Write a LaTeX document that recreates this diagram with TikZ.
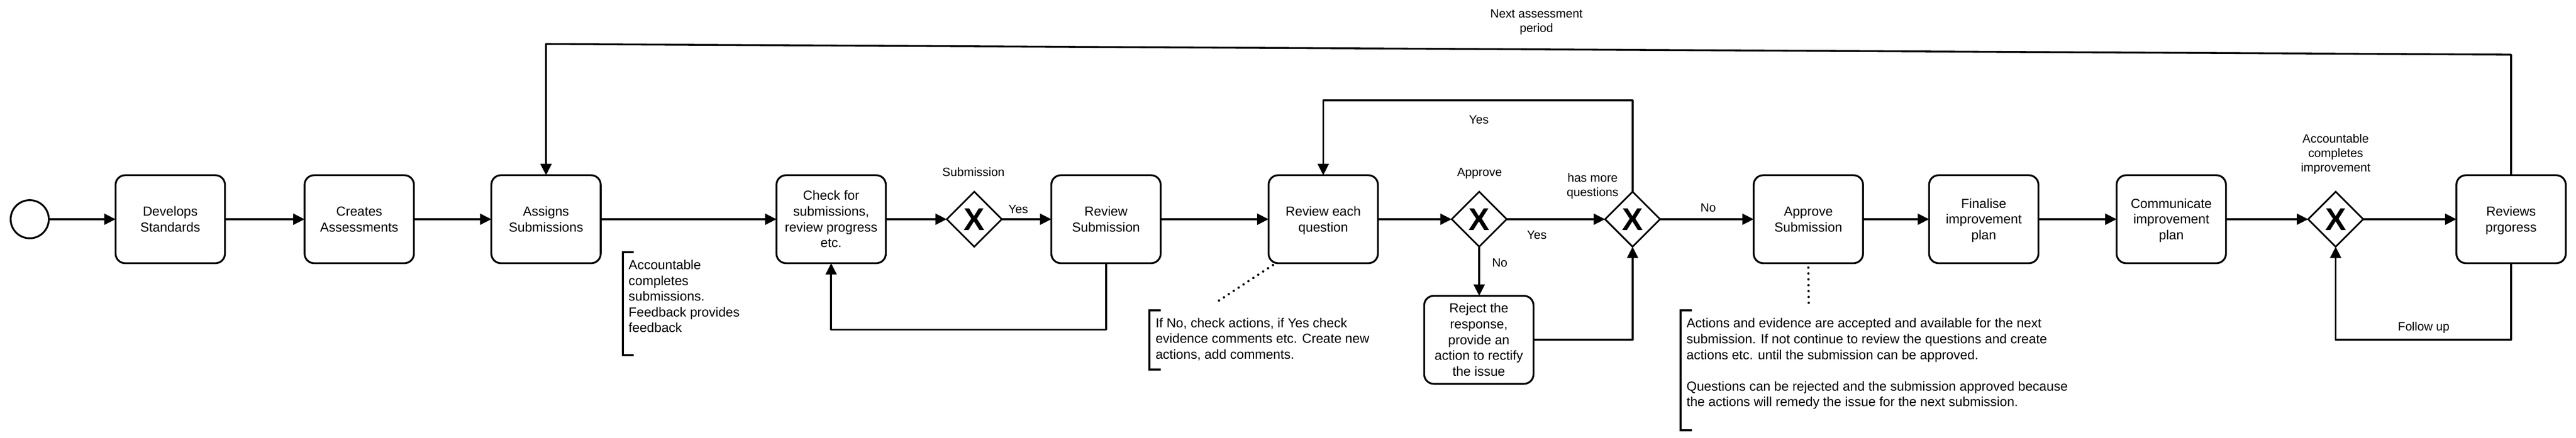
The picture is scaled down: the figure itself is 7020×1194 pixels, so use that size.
\documentclass[tikz,border=0pt]{standalone}
\usepackage{fontspec}
\setmainfont{Liberation Sans}
\usetikzlibrary{arrows.meta,shapes.geometric}
\newcommand\lstr{\rule[-0.2535em]{0pt}{1.2em}}
\newcommand\fbig{\fontsize{35.8pt}{42.96pt}\selectfont}
\newcommand\fsmall{\fontsize{32.8pt}{39.36pt}\selectfont}
\newcommand\fxmark{\fontsize{86pt}{86pt}\selectfont\bfseries}
\tikzset{
  task/.style={draw, line width=5pt, rounded corners=26pt, minimum width=298pt, minimum height=240pt,
    inner sep=0pt, outer sep=0pt, align=center, font=\fbig},
  gw/.style={draw, diamond, line width=4.5pt, minimum width=150pt, minimum height=150pt,
    inner sep=0pt, outer sep=0pt},
  xmark/.style={inner sep=0pt, font=\fxmark},
  startev/.style={draw, circle, line width=5pt, minimum size=104pt, inner sep=0pt, outer sep=0pt},
  lbl/.style={inner sep=0pt, align=center, font=\fsmall},
  note/.style={inner sep=0pt, align=left, font=\fbig, anchor=north west},
  flow/.style={line width=5pt, line join=round, -{Triangle[length=31pt,width=30pt]}},
  plain/.style={line width=5pt, line join=round},
  brk/.style={line width=5.5pt, line join=miter},
  dots/.style={line width=6.5pt, line cap=round, dash pattern=on 0pt off 16pt},
}
\begin{document}
\begin{tikzpicture}[x=1pt,y=-1pt]
\useasboundingbox (0,0) rectangle (7020,1194);

% nodes
\node[startev] (s) at (81,598) {};
\node[task] (ds) at (464,598) {\lstr Develops\\\lstr Standards};
\node[task] (ca) at (979,598) {\lstr Creates\\\lstr Assessments};
\node[task] (as) at (1488,598) {\lstr Assigns\\\lstr Submissions};
\node[task] (chk) at (2265,598) {\lstr Check for\\\lstr submissions,\\\lstr review progress\\\lstr etc.};
\node[gw] (g1) at (2655,598) {};
\node[xmark] (x1) at (g1) {X};
\node[task] (rs) at (3014,598) {\lstr Review\\\lstr Submission};
\node[task] (rq) at (3606,598) {\lstr Review each\\\lstr question};
\node[gw] (ap) at (4031,598) {};
\node[xmark] (x2) at (ap) {X};
\node[gw] (hm) at (4449,598) {};
\node[xmark] (x3) at (hm) {X};
\node[task] (rj) at (4030,927) {\lstr Reject the\\\lstr response,\\\lstr provide an\\\lstr action to rectify\\\lstr the issue};
\node[task] (aps) at (4928,598) {\lstr Approve\\\lstr Submission};
\node[task] (fin) at (5406,598) {\lstr Finalise\\\lstr improvement\\\lstr plan};
\node[task] (com) at (5917,598) {\lstr Communicate\\\lstr improvement\\\lstr plan};
\node[gw] (g3) at (6365,598) {};
\node[xmark] (x4) at (g3) {X};
\node[task] (rp) at (6843,598) {\lstr Reviews\\\lstr prgoress};

% labels
\node[lbl] (lsub) at (2653,470) {\lstr Submission};
\node[lbl] (lyes1) at (2775,571) {\lstr Yes};
\node[lbl] (lnext) at (4187,56.5) {\lstr Next assessment\\\lstr period};
\node[lbl] (lyes2) at (4030,326) {\lstr Yes};
\node[lbl] (lappr) at (4032,470) {\lstr Approve};
\node[lbl] (lhm) at (4340,505) {\lstr has more\\\lstr questions};
\node[lbl] (lyes3) at (4188,641) {\lstr Yes};
\node[lbl] (lno1) at (4087,716) {\lstr No};
\node[lbl] (lno2) at (4655,567) {\lstr No};
\node[lbl] (lacc) at (6365,417) {\lstr Accountable\\\lstr completes\\\lstr improvement};
\node[lbl] (lfol) at (6605,891) {\lstr Follow up};

% notes
\node[note] (n1) at (1713,701) {\lstr Accountable\\\lstr completes\\\lstr submissions.\\\lstr Feedback provides\\\lstr feedback};
\node[note] (n2) at (3149,859) {\lstr If No, check actions, if Yes check\\\lstr evidence comments etc. Create new\\\lstr actions, add comments.};
\node[note] (n3) at (4596,860) {\lstr Actions and evidence are accepted and available for the next\\\lstr submission. If not continue to review the questions and create\\\lstr actions etc. until the submission can be approved.\\\lstr\\\lstr Questions can be rejected and the submission approved because\\\lstr the actions will remedy the issue for the next submission.};

% brackets
\draw[brk] (1727,688) -- (1697,688) -- (1697,969) -- (1727,969);
\draw[brk] (3163,847) -- (3132,847) -- (3132,1008) -- (3163,1008);
\draw[brk] (4610,846) -- (4580,846) -- (4580,1174) -- (4610,1174);

% coordinates
\coordinate (c1) at (2265,899);
\coordinate (c2) at (3606,274);
\coordinate (c3) at (6365,927);
\coordinate (tr) at (6843,149);
\coordinate (tl) at (1488,120);
\coordinate (dq) at (3317,823);
\coordinate (da) at (4929,832);

% main flow
\draw[flow] (s.east) -- (ds.west);
\draw[flow] (ds.east) -- (ca.west);
\draw[flow] (ca.east) -- (as.west);
\draw[flow] (as.east) -- (chk.west);
\draw[flow] (chk.east) -- (g1.west);
\draw[flow] (g1.east) -- (rs.west);
\draw[flow] (rs.east) -- (rq.west);
\draw[flow] (rq.east) -- (ap.west);
\draw[flow] (ap.east) -- (hm.west);
\draw[flow] (hm.east) -- (aps.west);
\draw[flow] (aps.east) -- (fin.west);
\draw[flow] (fin.east) -- (com.west);
\draw[flow] (com.east) -- (g3.west);
\draw[flow] (g3.east) -- (rp.west);

% branches and loops
\draw[flow] (ap.south) -- (ap.south |- rj.north);
\draw[flow] (rj.east) -| (hm.south);
\draw[flow] (hm.north) |- (c2) -- (rq.north);
\draw[flow] (rs.south) |- (c1) -- (chk.south);
\draw[flow] (rp.south) |- (c3) -- (g3.south);
\draw[flow] (rp.north) -- (tr) -- (tl) -- (as.north);

% associations
\draw[dots] ([xshift=12pt,yshift=-5pt]rq.south west) -- (dq);
\draw[dots] ([yshift=-12pt]aps.south) -- (da);
\end{tikzpicture}
\end{document}
